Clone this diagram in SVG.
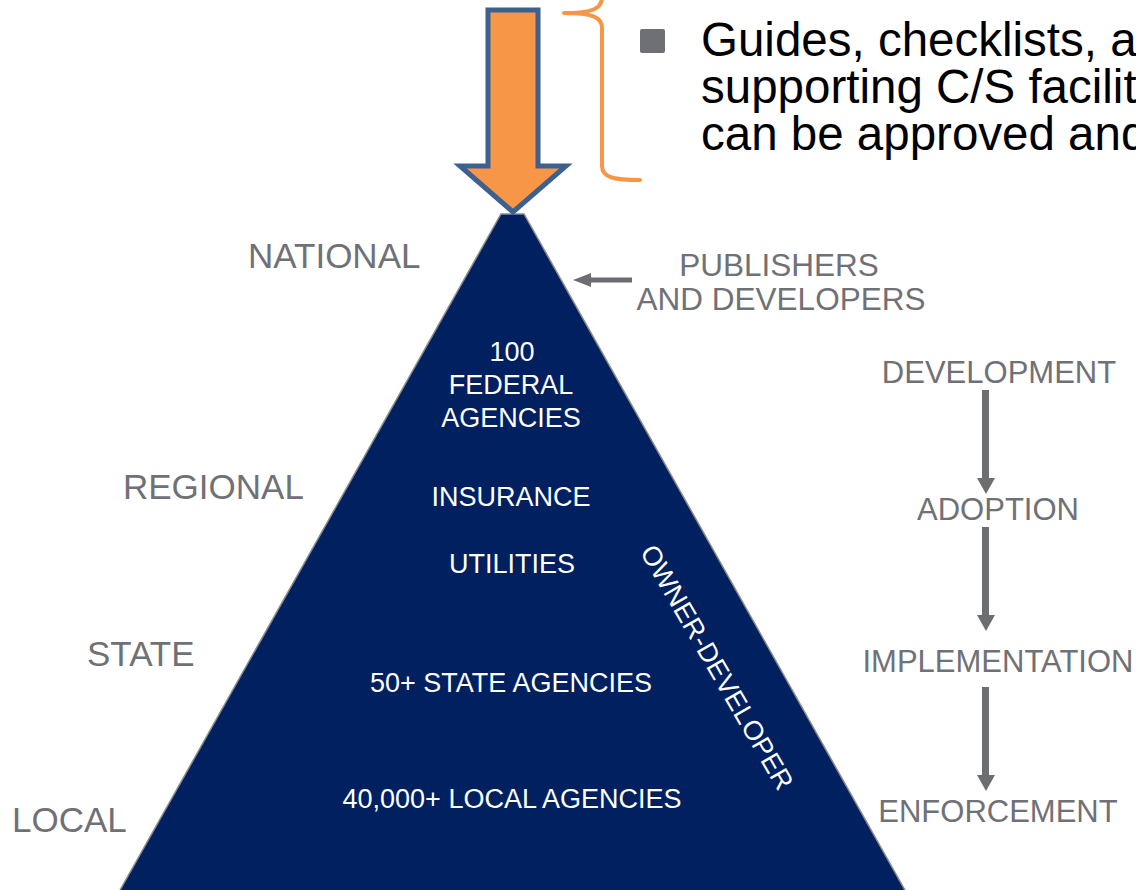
<svg xmlns="http://www.w3.org/2000/svg" width="1136" height="890" viewBox="0 0 1136 890">
<defs>
<style>
.lvl{font-family:"Liberation Sans",Arial,sans-serif;font-size:35px;fill:#707177}
.stage{font-family:"Liberation Sans",Arial,sans-serif;font-size:31px;fill:#707177;text-anchor:middle}
.pub{font-family:"Liberation Sans",Arial,sans-serif;font-size:31.5px;fill:#707177;text-anchor:middle}
.in{font-family:"Liberation Sans",Arial,sans-serif;font-size:27px;fill:#ffffff;text-anchor:middle}
.body{font-family:"Liberation Sans",Arial,sans-serif;font-size:47.5px;fill:#000000}
.garr{fill:#6D6E71}
</style>
</defs>
<rect width="1136" height="890" fill="#ffffff"/>
<g id="pyramid">
<polygon points="501,214 524,214 906,892 119,892" fill="#002060" stroke="#8a8a8a" stroke-width="1.5"/>
</g>
<g id="big-arrow">
<polygon points="488,10 538,10 538,166 566,166 513,212 460,166 488,166" fill="#F79646" stroke="#3C6090" stroke-width="5" stroke-linejoin="miter"/>
</g>
<g id="brace">
<path d="M640,180 C615,180 602,178 602,166 L602,28 C602,17 592,13 564,13 M564,13 C592,13 602,9 602,-3" fill="none" stroke="#F79646" stroke-width="4" stroke-linecap="round"/>
</g>
<g id="bullet-text">
<rect x="640" y="29" width="25" height="24" rx="2" fill="#6F7075"/>
<text class="body" x="701" y="56">Guides, checklists, a</text>
<text class="body" x="701" y="103">supporting C/S facilit</text>
<text class="body" x="701" y="150">can be approved and</text>
</g>
<g id="levels">
<text class="lvl" x="248" y="268">NATIONAL</text>
<text class="lvl" x="123" y="499">REGIONAL</text>
<text class="lvl" x="87" y="666">STATE</text>
<text class="lvl" x="12" y="832">LOCAL</text>
</g>
<g id="publishers">
<text class="pub" x="779" y="276">PUBLISHERS</text>
<text class="pub" x="781" y="310">AND DEVELOPERS</text>
</g>
<g id="inner-labels">
<text class="in" x="512" y="361">100</text>
<text class="in" x="511" y="394">FEDERAL</text>
<text class="in" x="511" y="427">AGENCIES</text>
<text class="in" x="511" y="506">INSURANCE</text>
<text class="in" x="512" y="573">UTILITIES</text>
<text class="in" x="511" y="692">50+ STATE AGENCIES</text>
<text class="in" x="512" y="808">40,000+ LOCAL AGENCIES</text>
<text class="in" font-size="25.5" transform="translate(709,672) rotate(60)" x="0" y="0">OWNER-DEVELOPER</text>
</g>
<g id="stages">
<text class="stage" x="999" y="383">DEVELOPMENT</text>
<text class="stage" x="998" y="520">ADOPTION</text>
<text class="stage" x="998" y="672">IMPLEMENTATION</text>
<text class="stage" x="998" y="822">ENFORCEMENT</text>
</g>
<g id="connectors">
<rect class="garr" x="982" y="390" width="7" height="89"/>
<polygon class="garr" points="977,478 995,478 986,494"/>
<rect class="garr" x="982" y="527" width="7" height="89"/>
<polygon class="garr" points="977,615 995,615 986,631"/>
<rect class="garr" x="982" y="687" width="7" height="89"/>
<polygon class="garr" points="977,775 995,775 986,791"/>
<rect class="garr" x="590" y="277.5" width="42" height="5"/>
<polygon class="garr" points="591,273 591,287 573,280"/>
</g>
</svg>
